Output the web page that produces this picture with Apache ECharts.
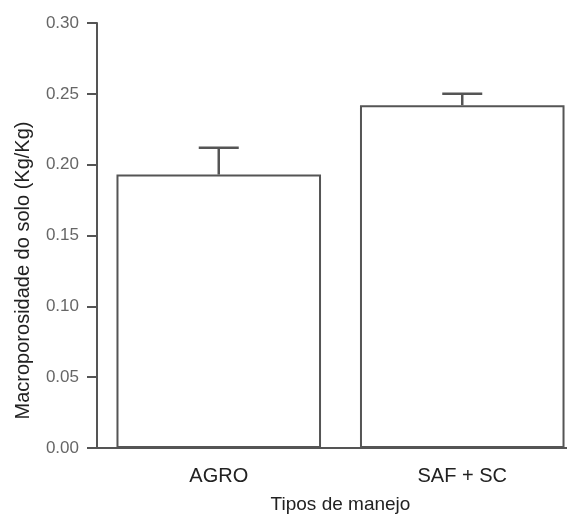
<!DOCTYPE html>
<html>
<head>
<meta charset="utf-8">
<script src="https://cdn.jsdelivr.net/npm/echarts@6/dist/echarts.min.js"></script>
<style>
html,body{margin:0;padding:0;background:#fff;}
#c{width:567px;height:515px;}
</style>
</head>
<body>
<div id="c"></div>
<script>
var categories = ['AGRO', 'SAF + SC'];
var means = [0.193, 0.242];
var errTops = [0.212, 0.250];
var yTicks = [0, 0.05, 0.10, 0.15, 0.20, 0.25, 0.30];

var chart = echarts.init(document.getElementById('c'), null, {renderer: 'canvas'});
var font = 'Liberation Sans, Arial, sans-serif';

var errData = categories.map(function (c, i) { return [i, means[i], errTops[i]]; });

chart.setOption({
  animation: false,
  backgroundColor: '#fff',
  grid: {left: 97, right: -17, top: 23, bottom: 67, outerBoundsMode: 'none', containLabel: false},
  xAxis: {
    type: 'category',
    data: categories,
    name: 'Tipos de manejo',
    nameLocation: 'middle',
    nameGap: 47,
    nameTextStyle: {fontFamily: font, fontSize: 19, color: '#222'},
    axisLine: {lineStyle: {color: '#555', width: 2}},
    axisTick: {show: false},
    axisLabel: {fontFamily: font, fontSize: 20, color: '#222', margin: 18}
  },
  yAxis: {
    type: 'value',
    min: yTicks[0],
    max: yTicks[yTicks.length - 1],
    interval: 0.05,
    name: 'Macroporosidade do solo (Kg/Kg)',
    nameLocation: 'middle',
    nameGap: 64,
    nameTextStyle: {fontFamily: font, fontSize: 20, color: '#222', padding: [0, 70, 0, 0]},
    axisLine: {show: true, lineStyle: {color: '#555', width: 2}},
    axisTick: {show: true, length: 10, lineStyle: {color: '#555', width: 2}},
    splitLine: {show: false},
    axisLabel: {
      fontFamily: font, fontSize: 17, color: '#666', margin: 18,
      formatter: function (v) { return v.toFixed(2); }
    }
  },
  series: [
    {
      type: 'bar',
      data: means,
      barCategoryGap: '16%',
      itemStyle: {color: '#fff', borderColor: '#555', borderWidth: 2},
      z: 2
    },
    {
      type: 'custom',
      data: errData,
      z: 3,
      renderItem: function (params, api) {
        var x = api.value(0);
        var base = api.coord([x, api.value(1)]);
        var top = api.coord([x, api.value(2)]);
        var hw = 20;
        return {
          type: 'group',
          children: [
            {type: 'line', shape: {x1: base[0], y1: base[1], x2: top[0], y2: top[1]},
              style: {stroke: '#555', lineWidth: 2.5}},
            {type: 'line', shape: {x1: top[0] - hw, y1: top[1], x2: top[0] + hw, y2: top[1]},
              style: {stroke: '#555', lineWidth: 2.5}}
          ]
        };
      }
    }
  ]
});
</script>
</body>
</html>
